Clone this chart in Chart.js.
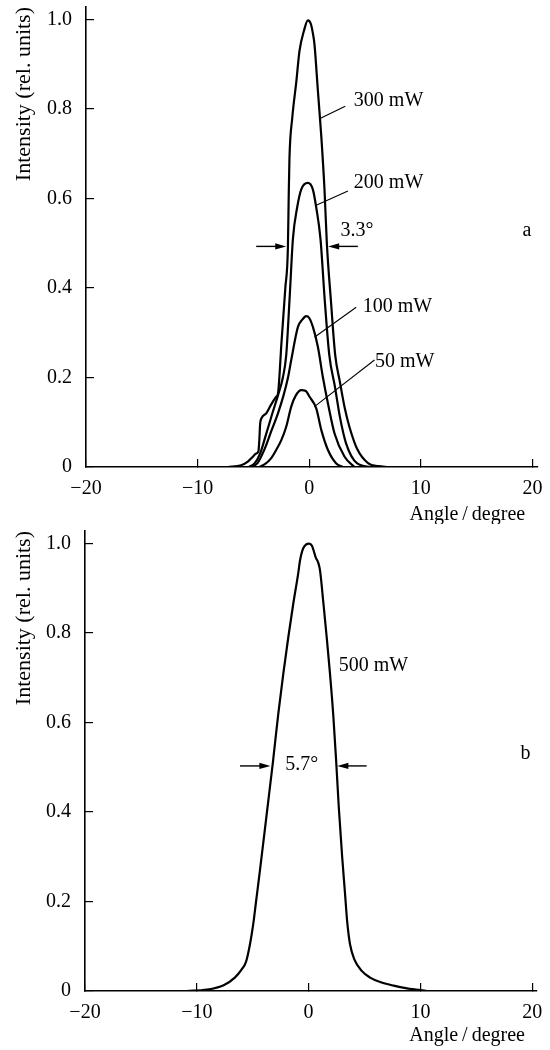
<!DOCTYPE html>
<html>
<head>
<meta charset="utf-8">
<script src="https://cdn.jsdelivr.net/npm/chart.js@4.4.0/dist/chart.umd.min.js"></script>
<style>
  html, body { margin: 0; padding: 0; background: #fff; }
  #wrap { position: relative; width: 550px; height: 1050px; }
  canvas { position: absolute; left: 0; }
  #chartA { top: 0; }
  #chartB { top: 524px; }
</style>
</head>
<body>
<div id="wrap">
  <canvas id="chartA" width="550" height="524"></canvas>
  <canvas id="chartB" width="550" height="526"></canvas>
</div>
<script>
// beam profiles — angle (degree) vs intensity (rel. units)

const X_TICKS = [-20, -10, 0, 10, 20];
const Y_TICKS = [0, 0.2, 0.4, 0.6, 0.8, 1.0];
const FONT = "'Liberation Serif', 'Times New Roman', serif";

// --- panel a ---
const ANGLE_300 = [-7.3, -6.1, -5.5, -5.05, -4.75, -4.55, -4.47, -4.4, -4.25, -3.85, -3.4, -2.95, -2.8, -2.48, -2.14, -1.91, -1.84, -1.77, -1.52, -1.16, -0.87, -0.47, -0.12, 0.15, 0.33, 0.47, 0.78, 1.08, 1.37, 1.58, 1.95, 2.33, 2.75, 3.2, 3.6, 4.3, 5.3, 6.2, 7.1];
const INT_300   = [0, 0.004, 0.012, 0.023, 0.03, 0.035, 0.06, 0.095, 0.11, 0.12, 0.14, 0.157, 0.164, 0.28, 0.40, 0.49, 0.6, 0.69, 0.78, 0.86, 0.93, 0.975, 0.998, 0.99, 0.969, 0.945, 0.84, 0.74, 0.62, 0.5, 0.37, 0.25, 0.19, 0.13, 0.09, 0.04, 0.008, 0.002, 0];

const ANGLE_200 = [-5.4, -4.9, -4.4, -3.9, -3.3, -2.8, -2.36, -2.06, -1.75, -1.46, -1.08, -0.72, -0.12, 0.33, 0.63, 1.01, 1.4, 1.8, 2.3, 2.75, 3.3, 4.3, 5.5];
const INT_200   = [0, 0.008, 0.03, 0.07, 0.12, 0.16, 0.2, 0.25, 0.38, 0.51, 0.58, 0.62, 0.635, 0.62, 0.58, 0.51, 0.37, 0.25, 0.18, 0.112, 0.053, 0.008, 0];

const ANGLE_100 = [-5.1, -4.6, -4.0, -3.4, -2.8, -2.3, -1.9, -1.61, -1.01, -0.6, -0.27, 0.0, 0.33, 0.78, 1.23, 1.68, 2.27, 3.17, 4.06];
const INT_100   = [0, 0.01, 0.04, 0.08, 0.12, 0.16, 0.2, 0.239, 0.313, 0.33, 0.337, 0.333, 0.313, 0.268, 0.2, 0.142, 0.075, 0.023, 0];

const ANGLE_50 = [-4.5, -4.0, -3.4, -2.96, -2.5, -2.06, -1.61, -1.2, -0.72, -0.3, 0.03, 0.63, 1.08, 1.68, 2.42, 3.0];
const INT_50   = [0, 0.006, 0.02, 0.038, 0.06, 0.09, 0.135, 0.16, 0.172, 0.17, 0.157, 0.131, 0.083, 0.038, 0.008, 0];

// --- panel b ---
const ANGLE_500 = [-10.9, -9.1, -7.6, -6.6, -6.0, -5.6, -5.24, -4.95, -4.7, -4.35, -3.75, -3.2, -2.71, -2.26, -1.82, -1.37, -0.92, -0.77, -0.47, 0.05, 0.3, 0.5, 0.65, 0.85, 1.02, 1.31, 1.62, 1.91, 2.21, 2.45, 2.7, 3.0, 3.25, 3.45, 3.7, 4.1, 4.75, 5.5, 6.4, 7.6, 8.8, 10.6];
const INT_500   = [0, 0.003, 0.013, 0.03, 0.048, 0.065, 0.105, 0.15, 0.2, 0.27, 0.395, 0.51, 0.62, 0.71, 0.79, 0.866, 0.935, 0.962, 0.99, 1.0, 0.995, 0.98, 0.968, 0.958, 0.94, 0.87, 0.79, 0.71, 0.615, 0.52, 0.41, 0.3, 0.22, 0.155, 0.105, 0.07, 0.045, 0.03, 0.02, 0.012, 0.006, 0];

// labels / arrows, in data units
const NOTES_A = {
  texts: [
    { t: '300 mW', x: 4.0, y: 0.819 },
    { t: '200 mW', x: 4.0, y: 0.635 },
    { t: '100 mW', x: 4.8, y: 0.358 },
    { t: '50 mW', x: 5.9, y: 0.235 },
    { t: '3.3°', x: 2.8, y: 0.529 },
    { t: 'a', x: 19.1, y: 0.529 },
    { t: 'Angle\u2009/\u2009degree', x: 19.35, y: -0.107, align: 'right' }
  ],
  leaders: [
    [0.92, 0.778, 3.23, 0.806],
    [0.63, 0.585, 3.47, 0.617],
    [0.47, 0.29, 4.21, 0.357],
    [0.47, 0.135, 5.85, 0.239]
  ],
  arrows: [
    [-4.75, 0.493, -2.06, 0.493],
    [4.36, 0.493, 1.70, 0.493]
  ]
};

const NOTES_B = {
  texts: [
    { t: '500 mW', x: 2.7, y: 0.727 },
    { t: '5.7°', x: -2.1, y: 0.505 },
    { t: 'b', x: 18.95, y: 0.53 },
    { t: 'Angle\u2009/\u2009degree', x: 19.35, y: -0.1, align: 'right' }
  ],
  leaders: [],
  arrows: [
    [-6.14, 0.503, -3.42, 0.503],
    [5.19, 0.503, 2.57, 0.503]
  ]
};

// --- plugin untuk teks & panah ---
const notesPlugin = {
  id: 'notes',
  afterDatasetsDraw(chart, args, opts) {
    const { ctx } = chart;
    const xs = chart.scales.x, ys = chart.scales.y;
    const px = v => xs.getPixelForValue(v);
    const py = v => ys.getPixelForValue(v);
    ctx.save();
    ctx.strokeStyle = '#000';
    ctx.fillStyle = '#000';
    ctx.lineWidth = 1.1;
    (opts.leaders || []).forEach(l => {
      ctx.beginPath();
      ctx.moveTo(px(l[0]), py(l[1]));
      ctx.lineTo(px(l[2]), py(l[3]));
      ctx.stroke();
    });
    ctx.lineWidth = 1.4;
    (opts.arrows || []).forEach(a => {
      const x1 = px(a[0]), y1 = py(a[1]), x2 = px(a[2]), y2 = py(a[3]);
      const dir = Math.sign(x2 - x1);
      ctx.beginPath();
      ctx.moveTo(x1, y1);
      ctx.lineTo(x2 - dir * 6, y2);
      ctx.stroke();
      ctx.beginPath();
      ctx.moveTo(x2, y2);
      ctx.lineTo(x2 - dir * 11, y2 - 3.2);
      ctx.lineTo(x2 - dir * 11, y2 + 3.2);
      ctx.closePath();
      ctx.fill();
    });
    ctx.font = `20px ${FONT}`;
    ctx.textBaseline = 'middle';
    (opts.texts || []).forEach(t => {
      ctx.textAlign = t.align || 'left';
      ctx.fillText(t.t, px(t.x), py(t.y));
    });
    ctx.restore();
  }
};

function fmtX(v) {
  return v < 0 ? '\u2212' + Math.abs(v) : String(v);
}
function fmtY(v) {
  return v === 0 ? '0' : v.toFixed(1);
}

function makePanel(id, series, notes, box) {
  return new Chart(document.getElementById(id), {
    type: 'line',
    data: {
      datasets: series.map(s => ({
        label: s.label,
        data: s.xs.map((x, i) => ({ x, y: s.ys[i] })),
        borderColor: '#000',
        borderWidth: 2.2,
        pointRadius: 0,
        fill: false,
        cubicInterpolationMode: 'monotone'
      }))
    },
    options: {
      responsive: false,
      animation: false,
      layout: { padding: { top: box.top, right: box.right, left: 0, bottom: 0 } },
      plugins: { legend: { display: false }, tooltip: { enabled: false }, notes },
      scales: {
        x: {
          type: 'linear',
          min: -20,
          max: box.xMax,
          afterBuildTicks: s => { s.ticks = X_TICKS.map(v => ({ value: v })); },
          afterFit: s => { s.height = box.xHeight; s.paddingLeft = 0; s.paddingRight = 0; },
          ticks: { color: '#000', font: { family: FONT, size: 20 }, padding: 18, maxRotation: 0, callback: v => fmtX(v) },
          grid: { drawOnChartArea: false, drawTicks: true, tickLength: -8, color: '#000', lineWidth: 1.2 },
          border: { display: true, color: '#000', width: 1.6 }
        },
        y: {
          type: 'linear',
          min: 0,
          max: 1.028,
          afterBuildTicks: s => { s.ticks = Y_TICKS.map(v => ({ value: v })); },
          afterFit: s => { s.width = box.yWidth; s.paddingTop = 0; s.paddingBottom = 0; },
          ticks: { color: '#000', font: { family: FONT, size: 20 }, padding: 22, callback: v => fmtY(v) },
          grid: { drawOnChartArea: false, drawTicks: true, tickLength: -8, color: '#000', lineWidth: 1.2 },
          border: { display: true, color: '#000', width: 1.6 },
          title: {
            display: true,
            text: 'Intensity (rel. units)',
            align: 'end',
            color: '#000',
            font: { family: FONT, size: 22 },
            padding: { top: 11, bottom: 0 }
          }
        }
      }
    },
    plugins: [notesPlugin]
  });
}

// --- INISIALISASI ---
makePanel('chartA', [
  { label: '300 mW', xs: ANGLE_300, ys: INT_300 },
  { label: '200 mW', xs: ANGLE_200, ys: INT_200 },
  { label: '100 mW', xs: ANGLE_100, ys: INT_100 },
  { label: '50 mW', xs: ANGLE_50, ys: INT_50 }
], NOTES_A, { top: 7, right: 12, xMax: 20.5, xHeight: 57, yWidth: 86 });

makePanel('chartB', [
  { label: '500 mW', xs: ANGLE_500, ys: INT_500 }
], NOTES_B, { top: 7, right: 13.3, xMax: 20.4, xHeight: 59, yWidth: 85 });
</script>
</body>
</html>
